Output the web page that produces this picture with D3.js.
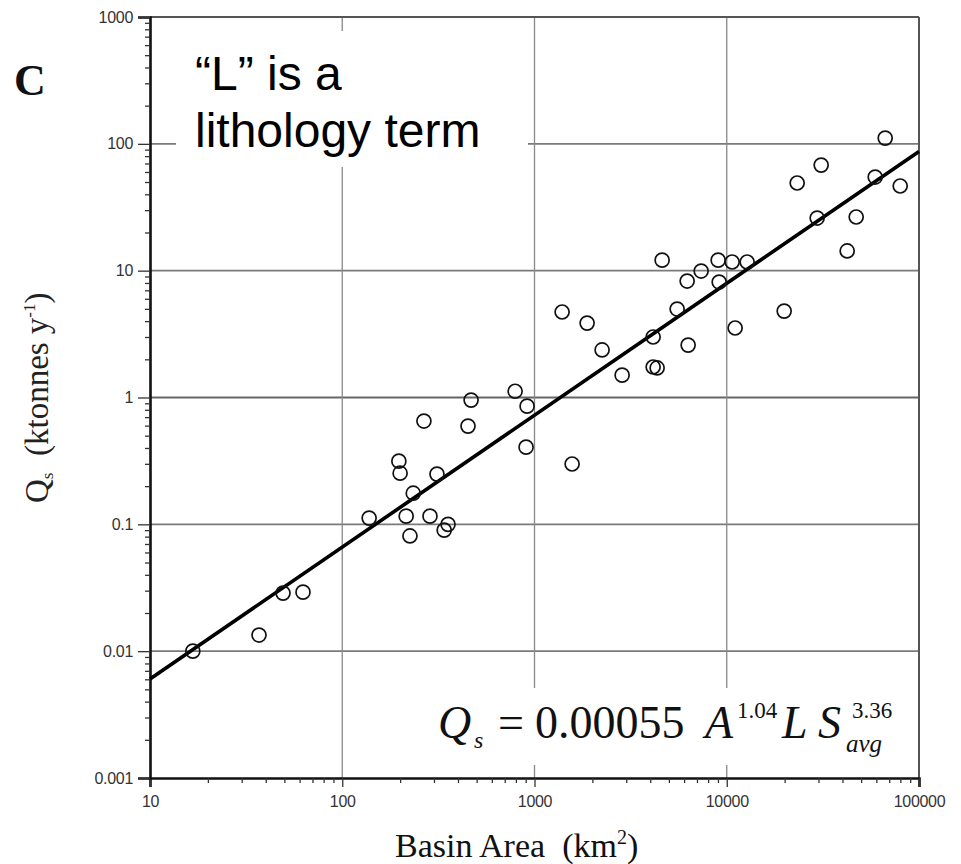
<!DOCTYPE html>
<html>
<head>
<meta charset="utf-8">
<script src="https://cdn.jsdelivr.net/npm/d3@7"></script>
<style>
  html, body { margin: 0; padding: 0; background: #fff; }
  svg { display: block; }
</style>
</head>
<body>
<svg id="chart" width="961" height="864"></svg>
<script>
// Basin area (km²) and sediment flux Qs (ktonnes per year) for each basin
const basinArea = [
  16.7, 36.9, 49.2, 62.5, 138, 197, 200, 215, 225, 234,
  266, 286, 311, 339, 355, 451, 468, 793, 915, 904,
  1392, 1569, 1878, 2247, 2856, 4141, 4141, 4344, 4612, 5520,
  6223, 6298, 7360, 9022, 9131, 10669, 11058, 12766, 19892, 23246,
  29534, 30982, 42311, 47129, 59167, 66706, 79840
];
const sedimentFlux = [
  0.0100, 0.0134, 0.0287, 0.0292, 0.112, 0.315, 0.253, 0.116, 0.081, 0.176,
  0.652, 0.116, 0.249, 0.090, 0.100, 0.595, 0.954, 1.12, 0.855, 0.406,
  4.72, 0.299, 3.86, 2.37, 1.50, 3.00, 1.74, 1.71, 12.1, 4.98,
  8.28, 2.59, 9.93, 12.1, 8.13, 11.7, 3.53, 11.7, 4.80, 49.1,
  26.0, 68.0, 14.3, 26.5, 54.7, 111, 46.5
];

// Power-law fit Qs = c * A^b
const fitCoef = 0.00055;
const fitExp = 1.04;
const fitRange = [10, 100000];

// Axis ticks
const xTickValues = [10, 100, 1000, 10000, 100000];
const xTickLabels = ["10", "100", "1000", "10000", "100000"];
const yTickValues = [0.001, 0.01, 0.1, 1, 10, 100, 1000];
const yTickLabels = ["0.001", "0.01", "0.1", "1", "10", "100", "1000"];

const svg = d3.select("#chart");
const plotL = 150, plotR = 919, plotT = 17, plotB = 778;

const x = d3.scaleLog().domain([10, 100000]).range([plotL, plotR]);
const y = d3.scaleLog().domain([0.001, 1000]).range([plotB, plotT]);

// minor ticks at 2..9 within each decade
const minorTicks = (domain) => {
  const out = [];
  for (let e = Math.round(Math.log10(domain[0])); e < Math.round(Math.log10(domain[1])); e++) {
    for (let k = 2; k <= 9; k++) out.push(k * Math.pow(10, e));
  }
  return out;
};

// grid
const grid = svg.append("g");
grid.selectAll("line.h")
  .data(yTickValues.slice(1, -1))
  .join("line")
  .attr("x1", plotL).attr("x2", plotR)
  .attr("y1", d => y(d)).attr("y2", d => y(d))
  .attr("stroke", d => d === 1 ? "#666" : "#7a7a7a")
  .attr("stroke-width", d => d === 1 ? 2 : 1.6);
grid.selectAll("line.v")
  .data(xTickValues.slice(1, -1))
  .join("line")
  .attr("y1", plotT).attr("y2", plotB)
  .attr("x1", d => x(d)).attr("x2", d => x(d))
  .attr("stroke", "#888").attr("stroke-width", 1.3);

// white panels behind the annotations
svg.append("rect").attr("x", 176).attr("y", 31).attr("width", 352).attr("height", 136).attr("fill", "#fff");
svg.append("rect").attr("x", 425).attr("y", 688).attr("width", 492).attr("height", 77).attr("fill", "#fff");

// frame (top and right)
svg.append("line").attr("x1", plotL).attr("x2", plotR).attr("y1", plotT).attr("y2", plotT)
  .attr("stroke", "#555").attr("stroke-width", 2);
svg.append("line").attr("x1", plotR).attr("x2", plotR).attr("y1", plotT).attr("y2", plotB)
  .attr("stroke", "#555").attr("stroke-width", 2);

// axes
const tickFont = "'Liberation Sans', Arial, sans-serif";
const xAxis = svg.append("g").attr("transform", `translate(0,${plotB})`)
  .call(d3.axisBottom(x).tickValues(xTickValues)
    .tickFormat((d, i) => xTickLabels[i]).tickSize(9).tickPadding(9));
svg.append("g").attr("transform", `translate(0,${plotB})`)
  .call(d3.axisBottom(x).tickValues(minorTicks([10, 100000])).tickFormat("").tickSize(5))
  .select(".domain").remove();
const yAxis = svg.append("g").attr("transform", `translate(${plotL},0)`)
  .call(d3.axisLeft(y).tickValues(yTickValues)
    .tickFormat((d, i) => yTickLabels[i]).tickSize(12).tickPadding(5));
svg.append("g").attr("transform", `translate(${plotL},0)`)
  .call(d3.axisLeft(y).tickValues(minorTicks([0.001, 1000])).tickFormat("").tickSize(5))
  .select(".domain").remove();

svg.selectAll(".tick line").attr("stroke", "#333").attr("stroke-width", 1.3);
[xAxis, yAxis].forEach(a => {
  a.select(".domain").attr("stroke", "#111").attr("stroke-width", 2.6);
  a.selectAll(".tick text")
    .attr("font-family", tickFont).attr("font-size", 16)
    .attr("fill", "#333").attr("letter-spacing", -0.3);
});

// regression line
const fitLine = d3.line().x(d => x(d)).y(d => y(fitCoef * Math.pow(d, fitExp)));
svg.append("path")
  .attr("d", fitLine(fitRange))
  .attr("fill", "none").attr("stroke", "#000").attr("stroke-width", 3.6);

// basins
svg.append("g").selectAll("circle")
  .data(basinArea.map((a, i) => ({ a, q: sedimentFlux[i] })))
  .join("circle")
  .attr("cx", d => x(d.a)).attr("cy", d => y(d.q))
  .attr("r", 7)
  .attr("fill", "none").attr("stroke", "#111").attr("stroke-width", 1.7);

// panel letter
svg.append("text").attr("x", 14).attr("y", 95)
  .attr("font-family", "'Liberation Serif', 'Times New Roman', serif")
  .attr("font-weight", "bold").attr("font-size", 44)
  .attr("fill", "#111").text("C");

// annotation
const note = svg.append("text")
  .attr("font-family", "'Liberation Sans', Arial, sans-serif")
  .attr("font-size", 48).attr("fill", "#000");
note.append("tspan").attr("x", 195).attr("y", 90).text("\u201CL\u201D is a");
note.append("tspan").attr("x", 195).attr("y", 147).text("lithology term");

// equation
const serif = "'Liberation Serif', 'Times New Roman', serif";
const eq = svg.append("g").attr("font-family", serif).attr("fill", "#111");
const put = (tx, ty, size, str, italic) =>
  eq.append("text").attr("x", tx).attr("y", ty).attr("font-size", size)
    .attr("font-style", italic ? "italic" : "normal").text(str);
put(438, 738, 46, "Q", true);
put(474, 748, 24, "s", true);
put(498, 738, 46, "=", false);
put(535, 738, 46, "0.00055", false);
put(705, 738, 46, "A", true);
put(737, 718, 23, "1.04", false);
put(782, 738, 46, "L", true);
put(818, 738, 46, "S", true);
put(852, 718, 23, "3.36", false);
put(846, 752, 25, "avg", true);

// axis titles
const xTitle = svg.append("text").attr("x", 395).attr("y", 857)
  .attr("font-family", serif).attr("font-size", 34).attr("fill", "#111");
xTitle.append("tspan").text("Basin Area\u00A0\u00A0(km");
xTitle.append("tspan").attr("font-size", 20).attr("dy", -13).text("2");
xTitle.append("tspan").attr("dy", 13).text(")");

const yTitle = svg.append("text")
  .attr("transform", "translate(48,503) rotate(-90)")
  .attr("font-family", serif).attr("font-size", 33).attr("fill", "#222");
yTitle.append("tspan").text("Q");
yTitle.append("tspan").attr("font-size", 17).attr("dy", 5).text("s");
yTitle.append("tspan").attr("dy", -5).text("\u00A0\u00A0(ktonnes y");
yTitle.append("tspan").attr("font-size", 17).attr("dy", -13).text("-1");
yTitle.append("tspan").attr("dy", 13).text(")");
</script>
</body>
</html>
